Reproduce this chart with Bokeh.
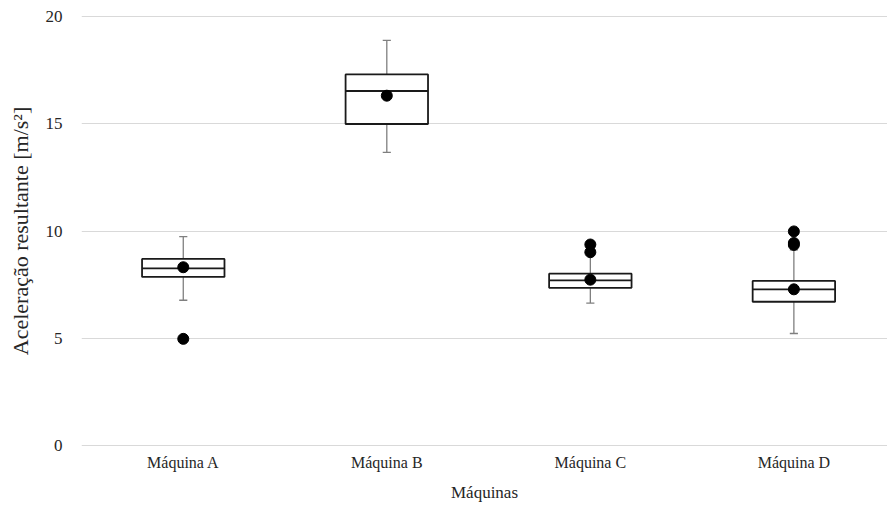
from bokeh.plotting import figure
from bokeh.models import Range1d, FixedTicker
from bokeh.embed import file_html
from bokeh.resources import INLINE

categories = ["Máquina A", "Máquina B", "Máquina C", "Máquina D"]
whisker_low = [6.77, 13.67, 6.64, 5.22]
q1 = [7.86, 14.99, 7.35, 6.70]
median = [8.26, 16.53, 7.70, 7.28]
q3 = [8.70, 17.30, 8.01, 7.67]
whisker_high = [9.74, 18.89, 8.95, 9.12]
mean = [8.31, 16.31, 7.73, 7.28]
outlier_cat = ["Máquina A", "Máquina C", "Máquina C", "Máquina D", "Máquina D", "Máquina D"]
outlier_val = [4.97, 9.37, 9.01, 9.98, 9.44, 9.35]
y_ticks = [0, 5, 10, 15, 20]

FONT = "Liberation Serif"
xpos = [i + 1 for i in range(len(categories))]
pos = {c: i + 1 for i, c in enumerate(categories)}
box_w = 0.405
cap_w = 0.02

p = figure(width=887, height=504, output_backend="svg", toolbar_location=None,
           x_range=Range1d(0.5, 4.46), y_range=Range1d(-0.05, 20.05),
           min_border_left=81, min_border_right=0, min_border_top=15, min_border_bottom=10)
p.outline_line_color = None
p.background_fill_color = "white"
p.border_fill_color = "white"

# grid
p.xgrid.grid_line_color = None
p.ygrid.grid_line_color = "#d9d9d9"
p.ygrid.grid_line_width = 1.2
p.yaxis.ticker = FixedTicker(ticks=y_ticks)
p.xaxis.ticker = FixedTicker(ticks=xpos)
p.xaxis.major_label_overrides = {i + 1: c for i, c in enumerate(categories)}

for ax in (p.xaxis, p.yaxis):
    ax.axis_line_color = None
    ax.major_tick_line_color = None
    ax.minor_tick_line_color = None
    ax.major_tick_out = 0
    ax.major_tick_in = 0
    ax.major_label_text_font = FONT
    ax.major_label_text_font_size = "17px"
    ax.major_label_text_color = "#262626"
    ax.axis_label_text_font = FONT
    ax.axis_label_text_font_style = "normal"
    ax.axis_label_text_color = "#262626"

p.yaxis.major_label_standoff = 19
p.xaxis.major_label_standoff = 7
p.xaxis.major_label_text_font_size = "16px"
p.xaxis.axis_label = "Máquinas"
p.xaxis.axis_label_text_font_size = "17px"
p.xaxis.axis_label_standoff = 9
p.yaxis.axis_label = "Aceleração resultante [m/s²]"
p.yaxis.axis_label_text_font_size = "22px"
p.yaxis.axis_label_standoff = 10

# whiskers
p.segment(x0=xpos, y0=q3, x1=xpos, y1=whisker_high, line_color="#7f7f7f", line_width=1.3)
p.segment(x0=xpos, y0=q1, x1=xpos, y1=whisker_low, line_color="#7f7f7f", line_width=1.3)
p.segment(x0=[x - cap_w for x in xpos], y0=whisker_high, x1=[x + cap_w for x in xpos], y1=whisker_high,
          line_color="#7f7f7f", line_width=1.3)
p.segment(x0=[x - cap_w for x in xpos], y0=whisker_low, x1=[x + cap_w for x in xpos], y1=whisker_low,
          line_color="#7f7f7f", line_width=1.3)

# boxes
p.vbar(x=xpos, width=box_w, top=q3, bottom=q1, fill_color="white", line_color="#1a1a1a", line_width=1.8)
p.segment(x0=[x - box_w / 2 for x in xpos], y0=median, x1=[x + box_w / 2 for x in xpos], y1=median,
          line_color="#1a1a1a", line_width=1.8)

# means and outliers
p.scatter(x=xpos, y=mean, size=11, color="black")
p.scatter(x=[pos[c] for c in outlier_cat], y=outlier_val, size=11, color="black")

open("out.html", "w").write(file_html(p, INLINE))
